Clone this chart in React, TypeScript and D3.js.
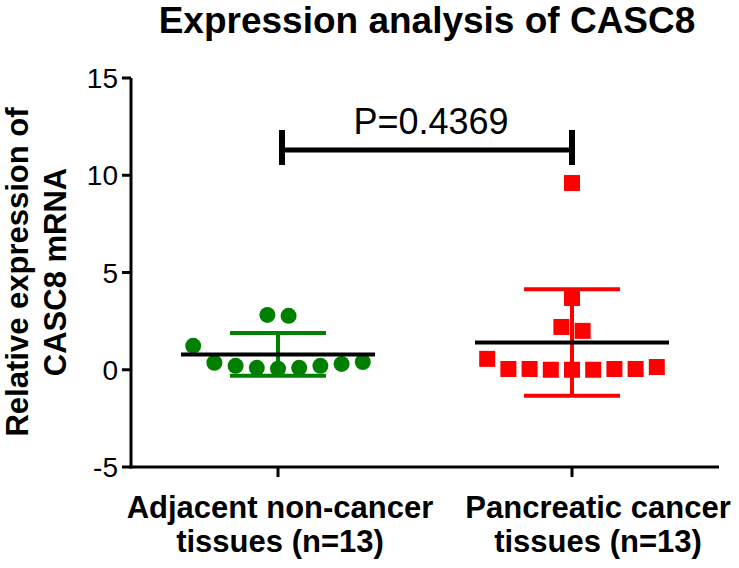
import React from "react";
import * as d3 from "d3";

const categories = ["Adjacent", "Pancreatic"];
const labelLines = [
  ["Adjacent non-cancer", "tissues (n=13)"],
  ["Pancreatic cancer", "tissues (n=13)"],
];
const adjacentValues = [1.23, 0.36, 0.2, 0.1, 0.05, 0.1, 0.2, 0.3, 0.4, 2.82, 2.77];
const cancerValues = [0.56, 0.04, 0.04, 0.0, 0.0, 0.0, 0.04, 0.04, 0.14, 2.2, 2.0, 3.69, 9.6];
const means = [0.79, 1.4];
const sds = [1.1, 2.74];
const colors = ["#008000", "#ff0000"];
const yTicks = [-5, 0, 5, 10, 15];
const pLabel = "P=0.4369";
const title = "Expression analysis of CASC8";
const yTitle = ["Relative expression of", "CASC8 mRNA"];

const FONT = "'Liberation Sans', Arial, Helvetica, sans-serif";

function swarm(values: number[], center: number, spacing: number, bin: number) {
  const rows = new Map<number, number[]>();
  values.forEach((v, i) => {
    const k = Math.floor(v / bin);
    if (!rows.has(k)) rows.set(k, []);
    rows.get(k)!.push(i);
  });
  const xs = new Array(values.length).fill(center);
  rows.forEach((idx) => {
    const n = idx.length;
    idx.forEach((i, j) => {
      xs[i] = center + (j - (n - 1) / 2) * spacing;
    });
  });
  return xs;
}

export default function App() {
  const W = 739;
  const H = 568;
  const left = 131;
  const right = 719;
  const y = d3.scaleLinear().domain([-5, 15]).range([467, 78]);
  const x = d3.scaleBand().domain(categories).range([left, right]);
  const cx = (c: string) => (x(c) as number) + x.bandwidth() / 2;

  const c0 = cx(categories[0]);
  const c1 = cx(categories[1]);
  const xs0 = swarm(adjacentValues, c0, 21.2, 1.5);
  const xs1 = swarm(cancerValues, c1, 21.2, 1.5);

  const sq = 16;

  return (
    <svg width={W} height={H} style={{ position: "absolute", left: 0, top: 0, background: "#fff" }} fontFamily={FONT}>
      <rect x={0} y={0} width={W} height={H} fill="#fff" />
      {/* title */}
      <text x={427} y={33} textAnchor="middle" fontSize={37} fontWeight="bold" fill="#000">
        {title}
      </text>
      {/* y title */}
      {yTitle.map((t, i) => (
        <text
          key={t}
          transform={`translate(${i === 0 ? 28 : 66},272) rotate(-90)`}
          textAnchor="middle"
          fontSize={31}
          fontWeight="bold"
          fill="#000"
        >
          {t}
        </text>
      ))}
      {/* axes */}
      <line x1={left} x2={left} y1={y(15)} y2={y(-5) + 1.5} stroke="#000" strokeWidth={3} />
      <line x1={left - 1.5} x2={right} y1={y(-5)} y2={y(-5)} stroke="#000" strokeWidth={3} />
      {yTicks.map((t) => (
        <g key={t}>
          <line x1={left - 9} x2={left} y1={y(t)} y2={y(t)} stroke="#000" strokeWidth={3} />
          <text x={118} y={y(t)} dy="0.36em" textAnchor="end" fontSize={28} fill="#000">
            {t}
          </text>
        </g>
      ))}
      {categories.map((c) => (
        <line key={c} x1={cx(c)} x2={cx(c)} y1={y(-5)} y2={y(-5) + 10} stroke="#000" strokeWidth={3} />
      ))}
      {labelLines.map((lines, i) => (
        <text
          key={i}
          x={i === 0 ? cx(categories[0]) + 2 : cx(categories[1]) + 26}
          y={518}
          textAnchor="middle"
          fontSize={31}
          fontWeight="bold"
          fill="#000"
        >
          {lines.map((l, j) => (
            <tspan key={j} x={i === 0 ? cx(categories[0]) + 2 : cx(categories[1]) + 26} dy={j === 0 ? 0 : 34}>
              {l}
            </tspan>
          ))}
        </text>
      ))}
      {/* points */}
      {adjacentValues.map((v, i) => (
        <circle key={"a" + i} cx={xs0[i]} cy={y(v)} r={8} fill={colors[0]} />
      ))}
      {cancerValues.map((v, i) => (
        <rect key={"c" + i} x={xs1[i] - sq / 2} y={y(v) - sq / 2} width={sq} height={sq} fill={colors[1]} />
      ))}
      {/* mean & sd */}
      {[c0, c1].map((c, i) => (
        <g key={"s" + i}>
          <line x1={c} x2={c} y1={y(means[i] + sds[i])} y2={y(means[i] - sds[i])} stroke={colors[i]} strokeWidth={4} />
          <line x1={c - 48} x2={c + 48} y1={y(means[i] + sds[i])} y2={y(means[i] + sds[i])} stroke={colors[i]} strokeWidth={4} />
          <line x1={c - 48} x2={c + 48} y1={y(means[i] - sds[i])} y2={y(means[i] - sds[i])} stroke={colors[i]} strokeWidth={4} />
          <line x1={c - 97} x2={c + 97} y1={y(means[i])} y2={y(means[i])} stroke="#000" strokeWidth={4} />
        </g>
      ))}
      {/* p bracket */}
      <line x1={c0 + 4} x2={c1} y1={150} y2={150} stroke="#000" strokeWidth={5} />
      <line x1={c0 + 4} x2={c0 + 4} y1={130} y2={165} stroke="#000" strokeWidth={6} />
      <line x1={c1} x2={c1} y1={130} y2={165} stroke="#000" strokeWidth={6} />
      <text x={431} y={134} textAnchor="middle" fontSize={36} fill="#000">
        {pLabel}
      </text>
    </svg>
  );
}
